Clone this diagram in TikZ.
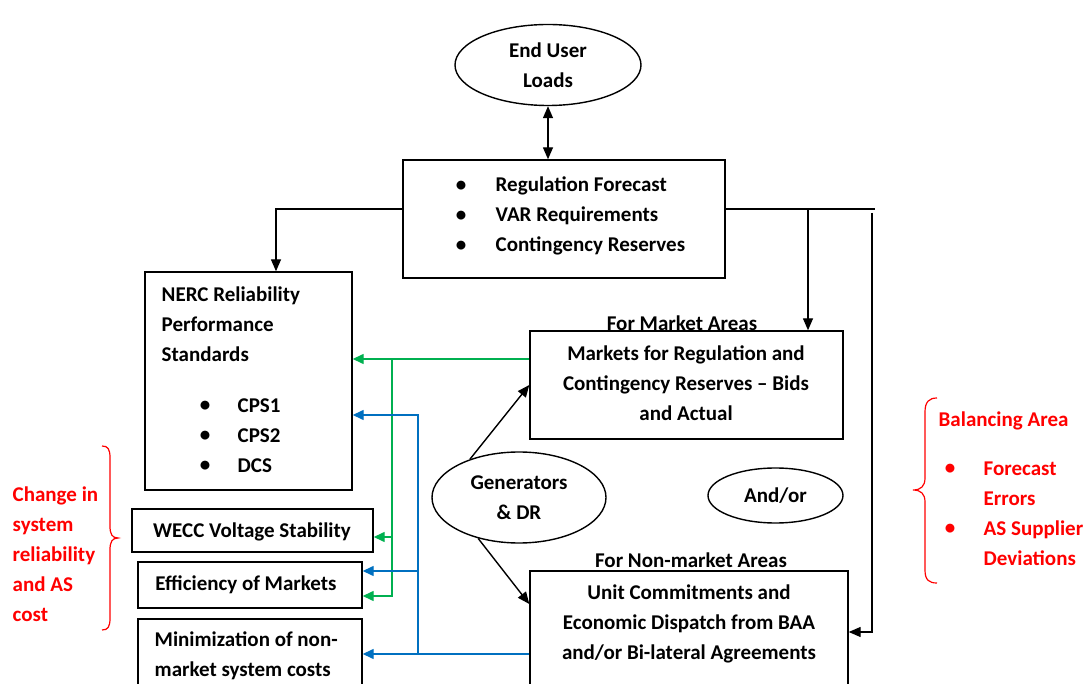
\documentclass[tikz,border=0pt]{standalone}
\usepackage{fontspec}
\setmainfont{Carlito}
\usetikzlibrary{arrows.meta,shapes.geometric}
\definecolor{lgreen}{RGB}{0,176,80}
\definecolor{lblue}{RGB}{0,112,192}
\definecolor{lred}{RGB}{255,0,0}
\begin{document}
\begin{tikzpicture}[x=1pt,y=-1pt,
  line width=1.4pt,
  every node/.style={font=\bfseries\fontsize{21}{30}\selectfont, inner sep=0pt},
  box/.style={draw, rectangle, line width=1.4pt},
  oval/.style={draw, ellipse, line width=1.4pt},
  tip/.style={-{Triangle[length=12pt,width=10pt]}},
  dtip/.style={{Triangle[length=12pt,width=10pt]}-{Triangle[length=12pt,width=10pt]}},
  gline/.style={draw=lgreen, line width=1.4pt, -{Triangle[length=11pt,width=10pt]}},
  bline/.style={draw=lblue, line width=1.4pt, -{Triangle[length=11pt,width=10pt]}},
  redtxt/.style={text=lred},
  brace/.style={draw=lred, line width=1.2pt}
]
\useasboundingbox (0,0) rectangle (1085,684);

% ---- nodes
\node[oval, minimum width=186pt, minimum height=81pt, align=center] (eul) at (548,65) {End User\\Loads};
\node[box, minimum width=322pt, minimum height=118pt] (req) at (564,219) {};
\node (rb1) at (461,186) {\textbullet};
\node (rb2) at (461,216) {\textbullet};
\node (rb3) at (461,246) {\textbullet};
\node[anchor=west] (rt1) at (495,186) {Regulation Forecast};
\node[anchor=west] (rt2) at (495,216) {VAR Requirements};
\node[anchor=west] (rt3) at (495,246) {Contingency Reserves};

\node[box, minimum width=207pt, minimum height=218pt] (nerc) at (248.5,381) {};
\node[anchor=west, align=left] (nt) at (161,324) {NERC Reliability\\Performance\\Standards};
\node (nb1) at (205,406) {\textbullet};
\node (nb2) at (205,436) {\textbullet};
\node (nb3) at (205,466) {\textbullet};
\node[anchor=west] (nc1) at (237,406) {CPS1};
\node[anchor=west] (nc2) at (237,436) {CPS2};
\node[anchor=west] (nc3) at (237,466) {DCS};

\node (mktl) at (682,323) {For Market Areas};
\node[box, minimum width=313pt, minimum height=108pt] (mkt) at (686.5,385) {};
\node[align=center] (mktt) at (686,383.5) {Markets for Regulation and\\Contingency Reserves -- Bids\\and Actual};

\node[oval, minimum width=174pt, minimum height=91pt, align=center] (gen) at (519,497.5) {Generators\\\& DR};
\node[oval, minimum width=135pt, minimum height=55pt] (andor) at (775.5,495.5) {And/or};

\node (nml) at (691,560) {For Non-market Areas};
\node[box, minimum width=318pt, minimum height=139pt] (unit) at (689,640.5) {};
\node[align=center] (unitt) at (689,624) {Unit Commitments and\\Economic Dispatch from BAA\\and/or Bi-lateral Agreements};

\node[box, minimum width=241pt, minimum height=43pt] (wecc) at (252.5,530.5) {};
\node (weccT) at (252,532) {WECC Voltage Stability};
\node[box, minimum width=224pt, minimum height=46pt] (eff) at (250,585) {};
\node (effT) at (246,585) {Efficiency of Markets};
\node[box, minimum width=224pt, minimum height=91pt] (mini) at (250,664.5) {};
\node[anchor=west, align=left] (miniT) at (154,656) {Minimization of non-\\market system costs};

\node[redtxt, anchor=west, align=left] (chg) at (12,554.5) {Change in\\system\\reliability\\and AS\\cost};
\node[redtxt, anchor=west] (bal) at (938,421) {Balancing Area};
\node[redtxt] (bb1) at (950,469) {\textbullet};
\node[redtxt] (bb2) at (950,529) {\textbullet};
\node[redtxt, anchor=west, align=left] (fe) at (983,483.5) {Forecast\\Errors};
\node[redtxt, anchor=west, align=left] (asd) at (983,543.5) {AS Supplier\\Deviations};

% ---- black connectors
\draw[dtip] (eul.south) -- (eul.south |- req.north);
\draw[tip] ([yshift=10pt]req.west) -| ([xshift=27.5pt]nerc.north);
\coordinate (rEnd) at (875,209);
\draw ([yshift=10pt]req.east) -- (rEnd);
\draw[tip] ([yshift=10pt]req.east) -| ([xshift=121.5pt]mkt.north);
\coordinate (rTop) at (872,213);
\draw[tip] (rTop) |- ([yshift=8.5pt]unit.east);
\draw[tip] (gen.142) -- (mkt.west);
\draw[tip] (gen.225) -- ([yshift=36.5pt]unit.west);

% ---- green connectors
\coordinate (gA) at ([yshift=26pt]mkt.west);
\coordinate (gJ) at (392,359);
\draw[gline] (gA) -- (gA -| nerc.east);
\draw[gline] (gJ) |- ([yshift=-11pt]eff.east);
\draw[gline] (gJ |- 0,537) -- ([yshift=-6.5pt]wecc.east);

% ---- blue connectors
\coordinate (bA) at ([yshift=-13.5pt]unit.west);
\coordinate (bJ) at (418,654);
\draw[bline] (bA) -- (bA -| mini.east);
\draw[bline] (bJ) |- ([yshift=-34pt]nerc.east);
\draw[bline] (bJ |- 0,571) -- ([yshift=14pt]eff.east);

% ---- braces
\draw[brace] (102,446) .. controls (108,446) and (110,449) .. (110,458) -- (110,526)
  .. controls (110,534) and (112,538) .. (118,538)
  .. controls (112,538) and (110,542) .. (110,550) -- (110,618)
  .. controls (110,627) and (108,630) .. (102,630);
\draw[brace] (937,398) .. controls (929,398) and (925,402) .. (925,412) -- (925,478)
  .. controls (925,486) and (921,490) .. (913,490)
  .. controls (921,490) and (925,494) .. (925,502) -- (925,570)
  .. controls (925,580) and (929,583) .. (937,583);
\end{tikzpicture}
\end{document}
